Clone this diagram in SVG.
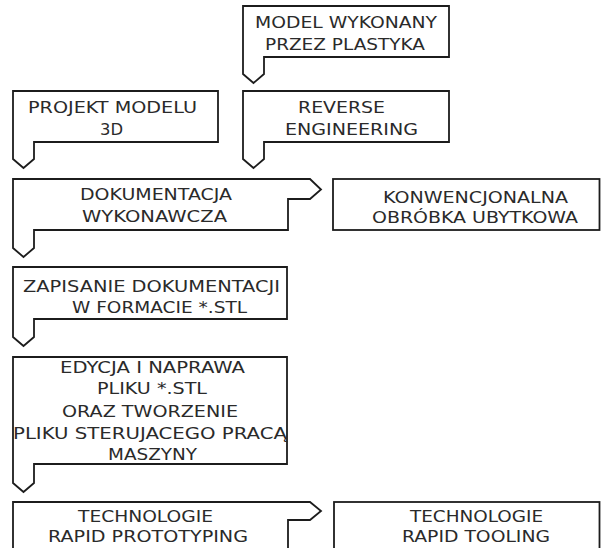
<svg xmlns="http://www.w3.org/2000/svg" width="601" height="548" viewBox="0 0 601 548">
<style>
.box{fill:#fff;stroke:#1c1c1c;stroke-width:1.8;stroke-linejoin:miter}
text{font-family:"DejaVu Sans","Verdana",sans-serif;font-size:16px;fill:#2a2a2a;text-anchor:middle}
</style>
<rect width="601" height="548" fill="#fff"/>
<g id="connectors"></g>
<g id="n1">
<polygon class="box" points="243,6 449,6 449,57 264,57 264,74 253.5,83 243,74"/>
<text x="346" y="28" textLength="182" lengthAdjust="spacingAndGlyphs">MODEL WYKONANY</text>
<text x="345" y="50" textLength="160" lengthAdjust="spacingAndGlyphs">PRZEZ PLASTYKA</text>
</g>
<g id="n2">
<polygon class="box" points="13,91 218,91 218,142 34,142 34,159 23.5,168 13,159"/>
<text x="112.5" y="113" textLength="169" lengthAdjust="spacingAndGlyphs">PROJEKT MODELU</text>
<text x="111.5" y="135" textLength="23" lengthAdjust="spacingAndGlyphs">3D</text>
</g>
<g id="n3">
<polygon class="box" points="243,91 449,91 449,142 264,142 264,159 253.5,168 243,159"/>
<text x="341.5" y="113" textLength="87" lengthAdjust="spacingAndGlyphs">REVERSE</text>
<text x="351.5" y="135" textLength="133" lengthAdjust="spacingAndGlyphs">ENGINEERING</text>
</g>
<g id="n4">
<polygon class="box" points="13,179 310,179 321,189.5 310,199 288,199 288,230 34,230 34,248 23.5,257 13,248"/>
<text x="156" y="200" textLength="152" lengthAdjust="spacingAndGlyphs">DOKUMENTACJA</text>
<text x="154.5" y="222" textLength="145" lengthAdjust="spacingAndGlyphs">WYKONAWCZA</text>
</g>
<g id="n5">
<rect class="box" x="333" y="179" width="266.5" height="51"/>
<text x="475.5" y="203" textLength="185" lengthAdjust="spacingAndGlyphs">KONWENCJONALNA</text>
<text x="475" y="223" textLength="206" lengthAdjust="spacingAndGlyphs">OBRÓBKA UBYTKOWA</text>
</g>
<g id="n6">
<polygon class="box" points="13,267 287,267 287,319 34,319 34,337 23.5,346 13,337"/>
<text x="151.5" y="292" textLength="257" lengthAdjust="spacingAndGlyphs">ZAPISANIE DOKUMENTACJI</text>
<text x="159.5" y="313" textLength="175" lengthAdjust="spacingAndGlyphs">W FORMACIE *.STL</text>
</g>
<g id="n7">
<polygon class="box" points="13,357 287,357 287,464 34,464 34,483 23.5,492 13,483"/>
<text x="152.5" y="373" textLength="185" lengthAdjust="spacingAndGlyphs">EDYCJA I NAPRAWA</text>
<text x="152" y="394" textLength="110" lengthAdjust="spacingAndGlyphs">PLIKU *.STL</text>
<text x="150" y="416.5" textLength="176" lengthAdjust="spacingAndGlyphs">ORAZ TWORZENIE</text>
<text x="150" y="439" textLength="274" lengthAdjust="spacingAndGlyphs">PLIKU STERUJACEGO PRACĄ</text>
<text x="152.5" y="460" textLength="89" lengthAdjust="spacingAndGlyphs">MASZYNY</text>
</g>
<g id="n8">
<polygon class="box" points="13,502 310,502 321,511 310,520 288,520 288,560 13,560"/>
<text x="145.5" y="521.5" textLength="135" lengthAdjust="spacingAndGlyphs">TECHNOLOGIE</text>
<text x="148" y="541.5" textLength="200" lengthAdjust="spacingAndGlyphs">RAPID PROTOTYPING</text>
</g>
<g id="n9">
<rect class="box" x="334" y="502" width="265.5" height="60"/>
<text x="476.5" y="522" textLength="133" lengthAdjust="spacingAndGlyphs">TECHNOLOGIE</text>
<text x="476" y="542" textLength="148" lengthAdjust="spacingAndGlyphs">RAPID TOOLING</text>
</g>
</svg>
